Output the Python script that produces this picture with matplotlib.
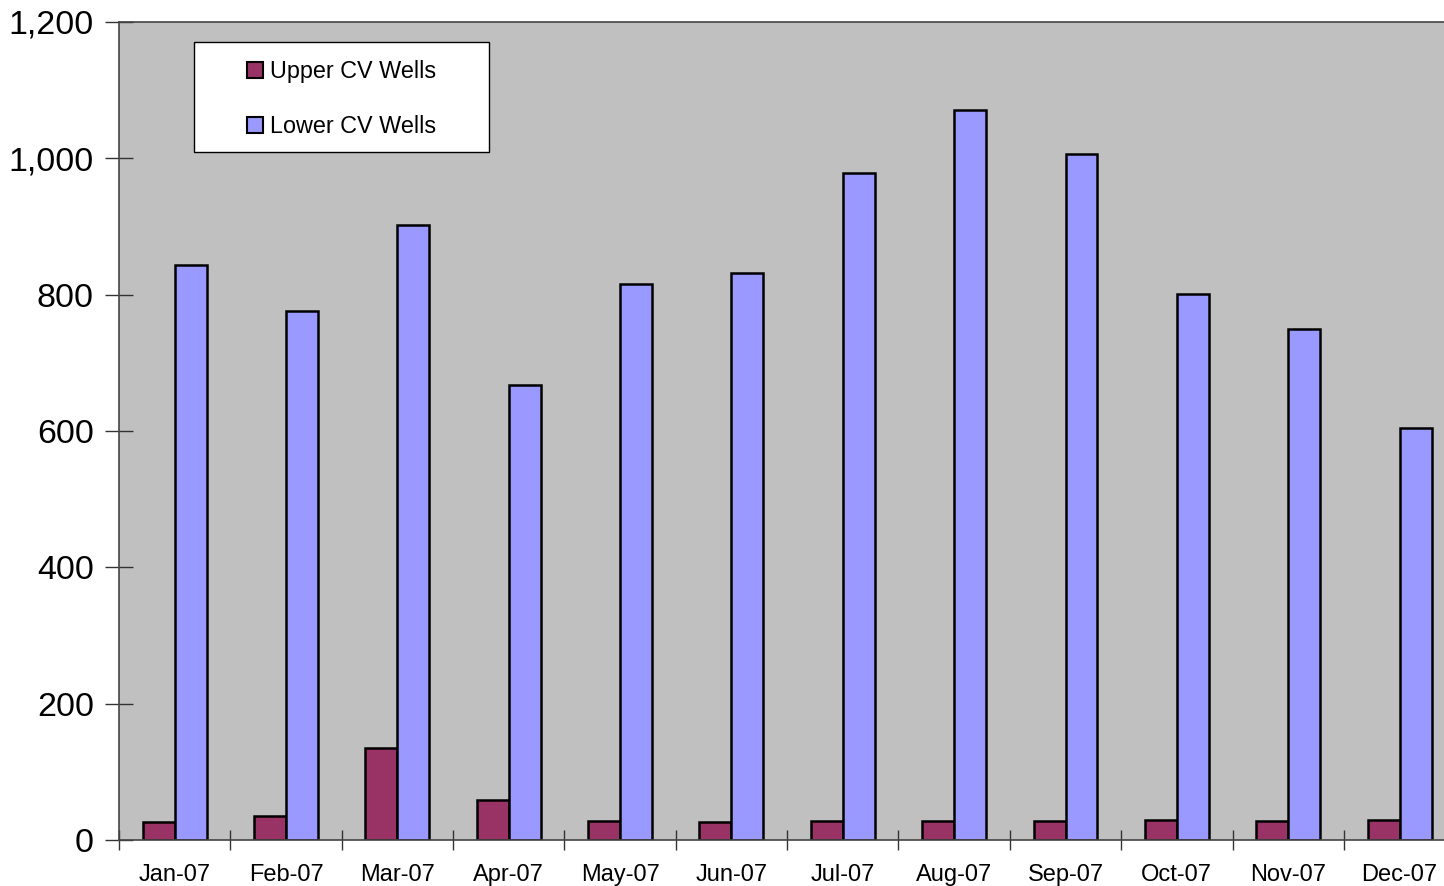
import matplotlib.pyplot as plt
from matplotlib.patches import Rectangle
import numpy as np

plt.rcParams['font.family'] = ['Liberation Sans', 'DejaVu Sans']

months = ['Jan-07', 'Feb-07', 'Mar-07', 'Apr-07', 'May-07', 'Jun-07',
          'Jul-07', 'Aug-07', 'Sep-07', 'Oct-07', 'Nov-07', 'Dec-07']
upper_cv = [26, 35, 135, 59, 28, 26, 28, 28, 28, 29, 28, 29]
lower_cv = [844, 776, 902, 667, 816, 832, 978, 1071, 1006, 801, 750, 604]
yticks = [0, 200, 400, 600, 800, 1000, 1200]

fig = plt.figure(figsize=(14.44, 8.86), dpi=100)
# plot area runs slightly past the right edge of the canvas
ax = fig.add_axes([0.0824, 0.0519, 0.9254, 0.9233])
ax.set_facecolor('#C0C0C0')

x = np.arange(len(months))
w = 0.287
ax.bar(x - w / 2, upper_cv, w, color='#993366', edgecolor='black',
       linewidth=1.8, label='Upper CV Wells', zorder=2)
ax.bar(x + w / 2, lower_cv, w, color='#9999FF', edgecolor='black',
       linewidth=1.8, label='Lower CV Wells', zorder=2)

ax.set_xlim(-0.5, len(months) - 0.5)
ax.set_ylim(0, 1200)
ax.set_yticks(yticks)
ax.set_yticklabels([f'{v:,}' for v in yticks], fontsize=24.5)
ax.tick_params(axis='y', direction='inout', length=20, width=1,
               color='#333333', pad=8)

# month ticks sit on category boundaries, labels in the middle
ax.set_xticks(np.arange(len(months) + 1) - 0.5)
ax.set_xticklabels([])
ax.set_xticks(x, minor=True)
ax.set_xticklabels(months, minor=True, fontsize=17)
ax.tick_params(axis='x', which='major', direction='inout', length=14,
               width=1, color='#333333')
ax.tick_params(axis='x', which='minor', length=0, pad=17)

for side in ['left', 'bottom', 'top']:
    ax.spines[side].set_color('#444444')
    ax.spines[side].set_linewidth(1.2)
ax.spines['right'].set_visible(False)

box = Rectangle((0.0561, 0.8411), 0.2208, 0.1345, transform=ax.transAxes,
                facecolor='white', edgecolor='black', linewidth=1, zorder=5)
ax.add_patch(box)
leg = ax.legend(loc='center', bbox_to_anchor=(0.1665, 0.9058), frameon=False,
                fontsize=16.8, labelspacing=1.38, handlelength=0.7,
                handleheight=0.65, handletextpad=0.3, borderaxespad=0)
leg.set_zorder(6)
for h in leg.legend_handles:
    h.set_linewidth(1.5)

fig.savefig('out.png', dpi=100)
